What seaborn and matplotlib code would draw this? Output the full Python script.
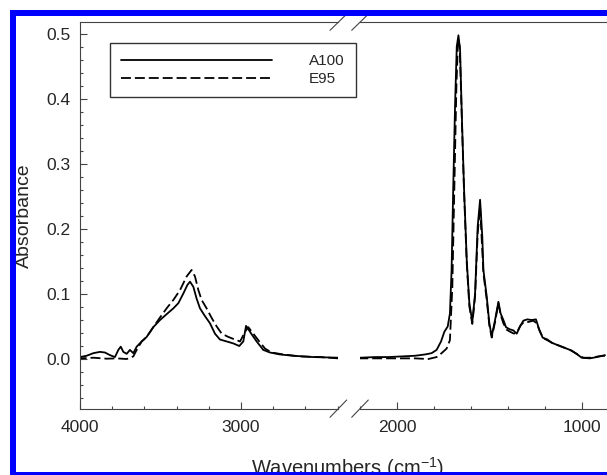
import numpy as np
import pandas as pd
import matplotlib
matplotlib.use("Agg")
import matplotlib.pyplot as plt
from matplotlib.lines import Line2D
from matplotlib.patches import Rectangle
from matplotlib.ticker import MultipleLocator
import seaborn as sns

# ---- FTIR spectra, high-wavenumber window (cm^-1) ----
wn_a_hi = [4000, 3959, 3917, 3876, 3845, 3814, 3783, 3762, 3747, 3731, 3710, 3690,
           3669, 3648, 3617, 3586, 3545, 3503, 3462, 3420, 3389, 3358, 3333, 3317,
           3296, 3276, 3255, 3224, 3193, 3162, 3131, 3089, 3048, 3011, 2986, 2969,
           2955, 2934, 2903, 2862, 2820, 2758, 2675, 2551, 2396]
abs_a_hi = [0.003, 0.005, 0.009, 0.011, 0.010, 0.006, 0.003, 0.014, 0.019, 0.011, 0.008, 0.014,
            0.009, 0.019, 0.027, 0.034, 0.049, 0.060, 0.069, 0.078, 0.086, 0.101, 0.114, 0.119,
            0.111, 0.093, 0.078, 0.066, 0.055, 0.039, 0.030, 0.027, 0.024, 0.020, 0.027, 0.051,
            0.046, 0.038, 0.027, 0.014, 0.010, 0.007, 0.005, 0.003, 0.002]

wn_e_hi = [4000, 3917, 3834, 3772, 3710, 3669, 3648, 3617, 3586, 3545, 3503, 3462,
           3420, 3379, 3338, 3307, 3286, 3265, 3245, 3214, 3182, 3151, 3120, 3079,
           3038, 3006, 2975, 2955, 2924, 2893, 2851, 2810, 2737, 2634, 2510, 2396]
abs_e_hi = [0.001, 0.002, 0.0005, 0.001, 0.0, 0.004, 0.014, 0.027, 0.034, 0.049, 0.064, 0.078,
            0.091, 0.106, 0.127, 0.137, 0.127, 0.106, 0.091, 0.078, 0.063, 0.050, 0.039, 0.034,
            0.030, 0.027, 0.042, 0.049, 0.039, 0.029, 0.016, 0.010, 0.007, 0.004, 0.003, 0.001]

# ---- FTIR spectra, fingerprint window (cm^-1) ----
wn_a_lo = [2200, 2119, 2047, 1975, 1903, 1849, 1813, 1786, 1762, 1744, 1726, 1714,
           1705, 1696, 1686, 1677, 1668, 1659, 1650, 1638, 1623, 1609, 1593, 1578,
           1564, 1551, 1539, 1533, 1515, 1501, 1488, 1470, 1452, 1440, 1425, 1411,
           1393, 1371, 1353, 1335, 1317, 1296, 1272, 1249, 1231, 1213, 1187, 1164,
           1137, 1101, 1065, 1029, 1002, 957, 921, 876]
abs_a_lo = [0.002, 0.003, 0.003, 0.004, 0.005, 0.007, 0.009, 0.014, 0.027, 0.042, 0.050, 0.070,
            0.137, 0.265, 0.393, 0.481, 0.498, 0.475, 0.378, 0.265, 0.152, 0.086, 0.057, 0.101,
            0.204, 0.245, 0.188, 0.137, 0.096, 0.055, 0.035, 0.060, 0.088, 0.070, 0.060, 0.049,
            0.046, 0.044, 0.039, 0.050, 0.059, 0.061, 0.060, 0.061, 0.045, 0.033, 0.030, 0.025,
            0.022, 0.018, 0.014, 0.008, 0.002, 0.001, 0.003, 0.006]

wn_e_lo = [2200, 2047, 1903, 1831, 1786, 1759, 1732, 1714, 1701, 1690, 1679, 1670,
           1661, 1650, 1638, 1623, 1609, 1593, 1578, 1564, 1551, 1533, 1515, 1501,
           1488, 1470, 1452, 1440, 1425, 1407, 1389, 1368, 1350, 1332, 1314, 1290,
           1263, 1245, 1227, 1209, 1182, 1155, 1128, 1092, 1056, 1020, 993, 948,
           912, 876]
abs_e_lo = [0.001, 0.001, 0.001, 0.0, 0.003, 0.009, 0.016, 0.029, 0.111, 0.265, 0.419, 0.493,
            0.481, 0.373, 0.260, 0.147, 0.081, 0.054, 0.096, 0.193, 0.235, 0.132, 0.091, 0.052,
            0.033, 0.057, 0.086, 0.068, 0.055, 0.045, 0.042, 0.039, 0.042, 0.052, 0.057, 0.057,
            0.059, 0.055, 0.042, 0.032, 0.028, 0.024, 0.021, 0.017, 0.013, 0.006, 0.002, 0.002,
            0.004, 0.005]

series_names = ["A100", "E95"]
x_ticks_hi = [4000, 3000]
x_ticks_lo = [2000, 1000]
y_ticks = [0.0, 0.1, 0.2, 0.3, 0.4, 0.5]

sns.set_style("ticks")
plt.rcParams["font.family"] = ["Liberation Sans", "DejaVu Sans"]
plt.rcParams["mathtext.default"] = "regular"

W, H = 607, 475
fig = plt.figure(figsize=(W / 100, H / 100), dpi=100)


def px_box(x0, x1, y0, y1):
    return [x0 / W, 1 - y1 / H, (x1 - x0) / W, (y1 - y0) / H]


ax_l = fig.add_axes(px_box(80, 338, 22, 409))
ax_r = fig.add_axes(px_box(360, 607, 22, 409))

spine_col = "#444444"
dash_style = (0, (5.5, 2.2))

for ax, (wa, aa, we, ae) in [(ax_l, (wn_a_hi, abs_a_hi, wn_e_hi, abs_e_hi)),
                             (ax_r, (wn_a_lo, abs_a_lo, wn_e_lo, abs_e_lo))]:
    sns.lineplot(x=wa, y=aa, ax=ax, color="black", linewidth=1.3, legend=False)
    sns.lineplot(x=we, y=ae, ax=ax, color="black", linewidth=1.3,
                 linestyle=dash_style, legend=False)
    ax.set_ylim(-0.0769, 0.5185)
    ax.set_xlabel("")
    ax.set_ylabel("")
    for s in ax.spines.values():
        s.set_color(spine_col)
        s.set_linewidth(0.8)
    ax.spines["right"].set_visible(False)
    ax.tick_params(which="both", direction="in", color=spine_col, width=0.8,
                   labelsize=12.5, top=False, right=False)
    ax.tick_params(which="major", length=5)
    ax.tick_params(which="minor", length=2.5)
    ax.tick_params(axis="x", pad=7.7)
    ax.xaxis.set_minor_locator(MultipleLocator(200))

ax_l.set_xlim(4000, 2398)
ax_r.set_xlim(2200, 865)
ax_l.set_xticks(x_ticks_hi)
ax_r.set_xticks(x_ticks_lo)
ax_l.set_yticks(y_ticks)
ax_l.set_yticklabels([f"{v:.1f}" for v in y_ticks])
ax_l.yaxis.set_minor_locator(MultipleLocator(0.02))
ax_l.tick_params(axis="y", pad=6.5)
ax_r.spines["left"].set_visible(False)
ax_r.tick_params(axis="y", which="both", left=False, labelleft=False)

ax_l.set_ylabel("Absorbance", fontsize=14)
ax_l.yaxis.set_label_coords((33 - 80) / 258, 0.5)
ax_l.set_xlabel("Wavenumbers (cm$^{-1}$)", fontsize=14.5)
ax_l.xaxis.set_label_coords((348 - 80) / 258, -0.119)
ax_l.xaxis.label.set_va("top")

# axis-break slashes on the top and bottom spines
breaks = [((330, 30.3), (345, 15.7)), ((351.7, 30.3), (366.7, 15.7)),
          ((330, 417.3), (346.7, 400)), ((351.7, 417.3), (368.3, 400))]
for (xa, ya), (xb, yb) in breaks:
    fig.add_artist(Line2D([xa / W, xb / W], [1 - ya / H, 1 - yb / H],
                          color=spine_col, linewidth=0.8, zorder=5))

# legend
handles = [Line2D([], [], color="black", linewidth=1.3),
           Line2D([], [], color="black", linewidth=1.3, linestyle=dash_style)]
leg = fig.legend(handles, series_names, loc="upper left",
                 bbox_to_anchor=(110 / W, 1 - 43 / H), frameon=True, fancybox=False,
                 fontsize=11, handlelength=9.9, handletextpad=2.4, borderpad=0.72,
                 labelspacing=0.26, borderaxespad=0)
leg.get_frame().set_edgecolor("#333333")
leg.get_frame().set_linewidth(1.0)
leg.get_frame().set_alpha(1)

# blue frame around the figure
fig.add_artist(Rectangle((13 / W, 0), 1.2, (H - 13) / H, fill=False,
                         edgecolor="#0000ff", linewidth=6 * 72 / 100, zorder=10))

fig.savefig("out.png", dpi=100)
